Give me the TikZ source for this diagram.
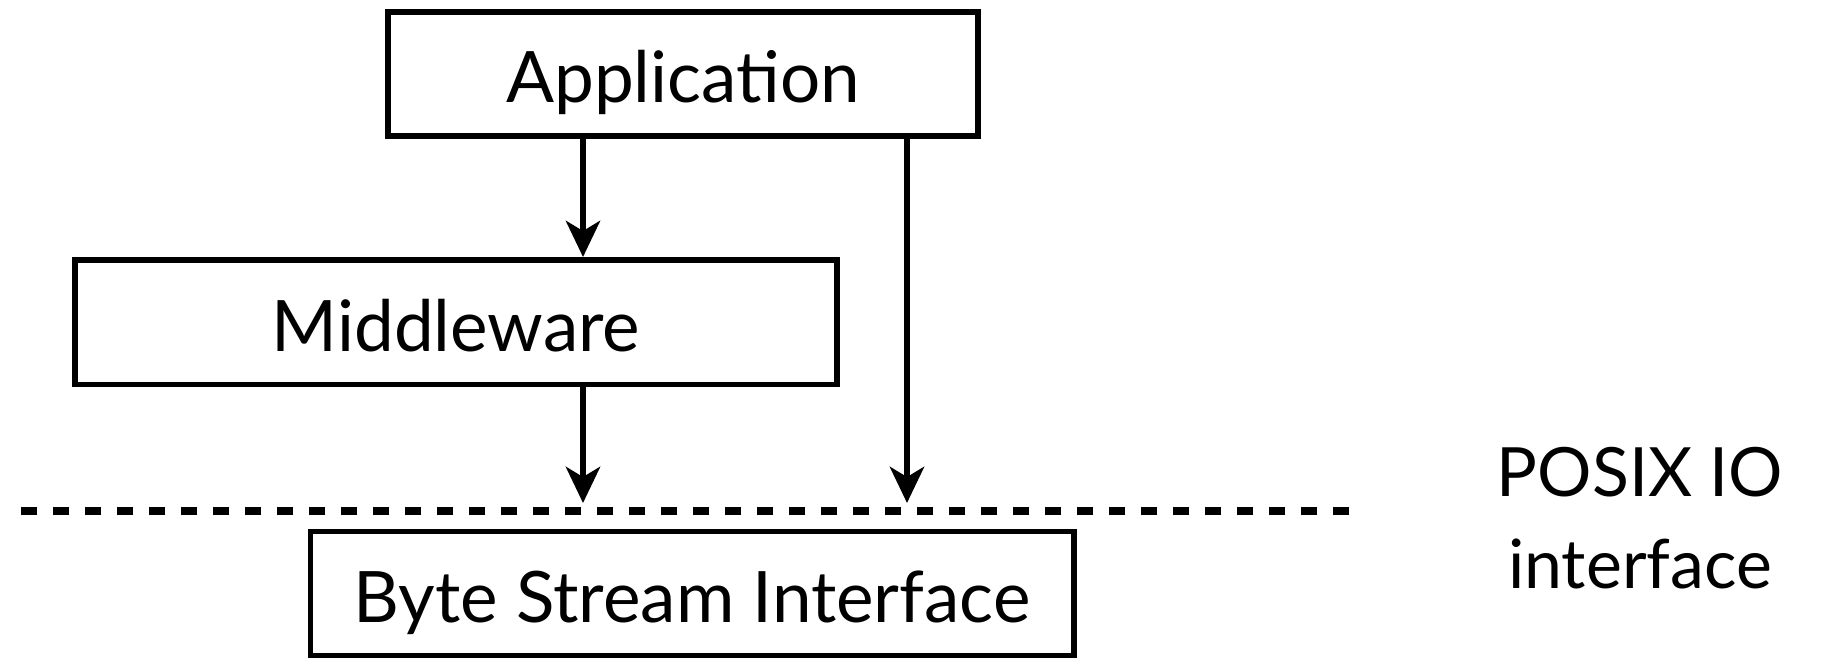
\documentclass[tikz,border=0pt]{standalone}
\usepackage{fontspec}
\setmainfont{Lato}
\usetikzlibrary{arrows.meta}
\tikzset{
  layerbox/.style={draw, line width=5.5pt, inner sep=0pt, text height=58pt, text depth=0pt,
    font=\fontsize{71}{85}\selectfont},
  flow/.style={line width=6.5pt, -{Stealth[length=36pt, width=34pt, inset=10pt]}},
  boundary/.style={line width=8pt, dash pattern=on 16pt off 16pt},
  sidelabel/.style={align=center, inner sep=0pt, font=\fontsize{68}{82}\selectfont}
}
\begin{document}
\begin{tikzpicture}[x=1pt, y=-1pt]
\useasboundingbox (0,0) rectangle (1834,658);
\node[layerbox, minimum width=590pt, minimum height=124pt] (app) at (683,74) {Application};
\node[layerbox, minimum width=762pt, minimum height=124.5pt] (mid) at (456,322) {Middleware};
\node[layerbox, minimum width=763.5pt, minimum height=124pt] (bsi) at (692,593.5) {Byte Stream Interface};
\coordinate (dl) at (20.7,511);
\coordinate (dr) at (1350,511);
\draw[boundary] (dl) -- (dr);
\draw[flow] ([xshift=-100pt]app.south) -- ([xshift=-100pt]app.south |- mid.north);
\draw[flow, shorten >=8pt] ([xshift=127pt]mid.south) -- ([xshift=127pt]mid.south |- dl);
\draw[flow, shorten >=8pt] ([xshift=224pt]app.south) -- ([xshift=224pt]app.south |- dl);
\node[sidelabel, anchor=base] (posix) at (1640,588) {POSIX IO\\[10pt]interface};
\end{tikzpicture}
\end{document}
